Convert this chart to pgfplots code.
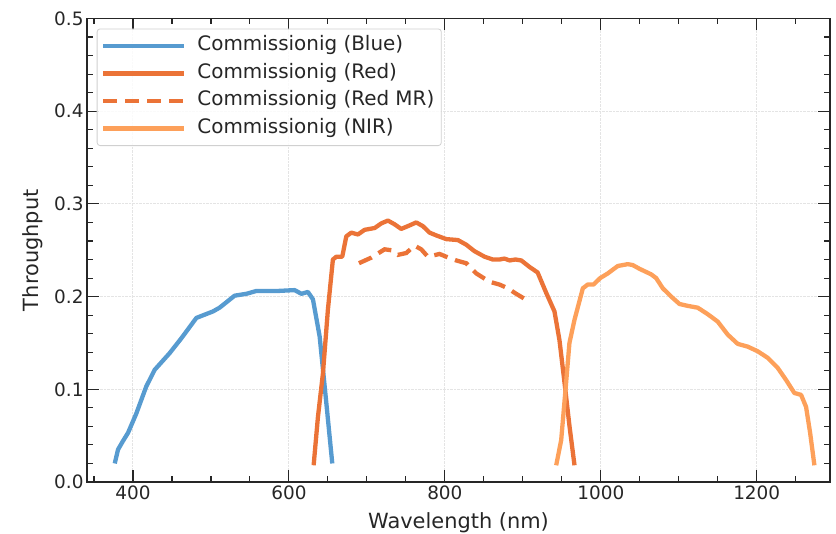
\documentclass[border=0pt]{standalone}
\usepackage{fontspec}
\setmainfont{DejaVu Sans}
\usepackage{pgfplots}
\pgfplotsset{compat=1.18}
\definecolor{cblue}{HTML}{579BD0}
\definecolor{cred}{HTML}{EB7337}
\definecolor{cnir}{HTML}{FDA05A}
\definecolor{gridc}{HTML}{E4E4E4}
\definecolor{spine}{HTML}{262626}
\begin{document}
\begin{tikzpicture}
\begin{axis}[
  scale only axis, width=743bp, height=463.5bp,
  xmin=341, xmax=1294, ymin=0, ymax=0.5,
  xtick={400,600,800,1000,1200},
  minor xtick={350,450,500,550,650,700,750,850,900,950,1050,1100,1150,1250},
  ytick={0,0.1,0.2,0.3,0.4,0.5},
  minor ytick={0.02,0.04,0.06,0.08,0.12,0.14,0.16,0.18,0.22,0.24,0.26,0.28,0.32,0.34,0.36,0.38,0.42,0.44,0.46,0.48},
  yticklabel style={/pgf/number format/fixed, /pgf/number format/fixed zerofill, /pgf/number format/precision=1},
  xticklabel style={/pgf/number format/1000 sep={}},
  /pgf/number format/assume math mode=true,
  tick align=inside, major tick length=12bp, minor tick length=6bp,
  every tick/.style={line width=1.1bp, spine},
  axis line style={line width=1.1bp, spine},
  xmajorgrids, ymajorgrids,
  major grid style={gridc, densely dotted, line width=1bp},
  tick label style={font=\fontsize{18.5}{22}\selectfont, text=spine},
  label style={font=\fontsize{21}{24}\selectfont, text=spine},
  xlabel={Wavelength (nm)}, ylabel={Throughput},
  xlabel style={yshift=-6bp},
  ylabel style={yshift=4bp},
  legend style={at={(axis description cs:0.0131,0.9784)}, anchor=north west,
    draw=gridc!80!gray, line width=0.8bp, rounded corners=3bp, fill=white, fill opacity=0.85, text opacity=1,
    font=\fontsize{20}{23}\selectfont, text=spine,
    nodes={text height=14bp, text depth=4.5bp, inner xsep=3bp, inner ysep=0bp},
    row sep=8.9bp, column sep=8bp, inner xsep=4bp, inner ysep=8bp},
  legend cell align=left,
  legend image code/.code={\draw[#1] (0bp,0bp) -- (81bp,0bp);},
]
\addplot[cblue, line width=4.3bp, line join=round] coordinates {
(376.6,0.020) (380.8,0.035) (387,0.044) (393.6,0.053) (404.3,0.074) (417,0.103)
(427.8,0.121) (447,0.139) (462,0.155) (481.3,0.177) (502.6,0.184) (511,0.188)
(530.4,0.201) (545.4,0.203) (558,0.206) (584,0.206) (607.3,0.207) (616,0.203)
(624.4,0.205) (630.8,0.197) (639.4,0.157) (648,0.085) (655.6,0.020)
};
\addlegendentry{Commissionig (Blue)}
\addplot[cred, line width=4.3bp, line join=round] coordinates {
(631.7,0.018) (637.2,0.070) (643.6,0.117) (650,0.186) (656.4,0.240) (660.8,0.243)
(668.4,0.243) (673.6,0.265) (680,0.269) (688.5,0.267) (697,0.272) (710,0.274)
(718.5,0.279) (727,0.282) (735.5,0.278) (744,0.273) (752.6,0.276) (763.3,0.280)
(771.8,0.276) (780.4,0.269) (789,0.266) (801.8,0.262) (816.7,0.261) (827.4,0.256)
(838,0.249) (851,0.243) (861.5,0.240) (870,0.240) (876.5,0.241) (883,0.239)
(890.6,0.240) (898,0.239) (908.6,0.232) (919,0.226) (930,0.204) (940.6,0.184)
(947,0.153) (953.5,0.107) (959.9,0.060) (966.3,0.018)
};
\addlegendentry{Commissionig (Red)}
\addplot[cred, line width=4.3bp, dash pattern=on 14bp off 8bp] coordinates {
(689.8,0.236) (705.6,0.242) (722.7,0.251) (731.3,0.250) (739.7,0.245) (750.5,0.247)
(761,0.255) (769.7,0.251) (778.2,0.243) (793.2,0.246) (801.8,0.243) (814.6,0.239)
(827.4,0.236) (840.3,0.225) (857.3,0.216) (870,0.213) (880.8,0.209) (891.5,0.203)
(903.5,0.197)
};
\addlegendentry{Commissionig (Red MR)}
\addplot[cnir, line width=4.3bp, line join=round] coordinates {
(942.8,0.018) (949.2,0.045) (954.7,0.099) (959.8,0.150) (966.3,0.175) (977,0.209)
(983.3,0.213) (990.7,0.213) (999.3,0.220) (1009,0.225) (1021.8,0.233) (1034.6,0.235)
(1041,0.234) (1049.6,0.230) (1064.6,0.224) (1071,0.220) (1079.5,0.209) (1090.3,0.200)
(1101,0.192) (1111.5,0.190) (1124.4,0.188) (1137.2,0.181) (1150,0.173) (1162.8,0.159)
(1175.6,0.149) (1188.5,0.146) (1201.3,0.141) (1214,0.134) (1227,0.123) (1237.7,0.110)
(1248.3,0.096) (1256.9,0.094) (1263.3,0.081) (1268.5,0.053) (1274,0.018)
};
\addlegendentry{Commissionig (NIR)}
\end{axis}
\pgfresetboundingbox
\path ([shift={(-87bp,-52bp)}]current axis.south west) rectangle ([shift={(6bp,18.5bp)}]current axis.north east);
\end{tikzpicture}
\end{document}
